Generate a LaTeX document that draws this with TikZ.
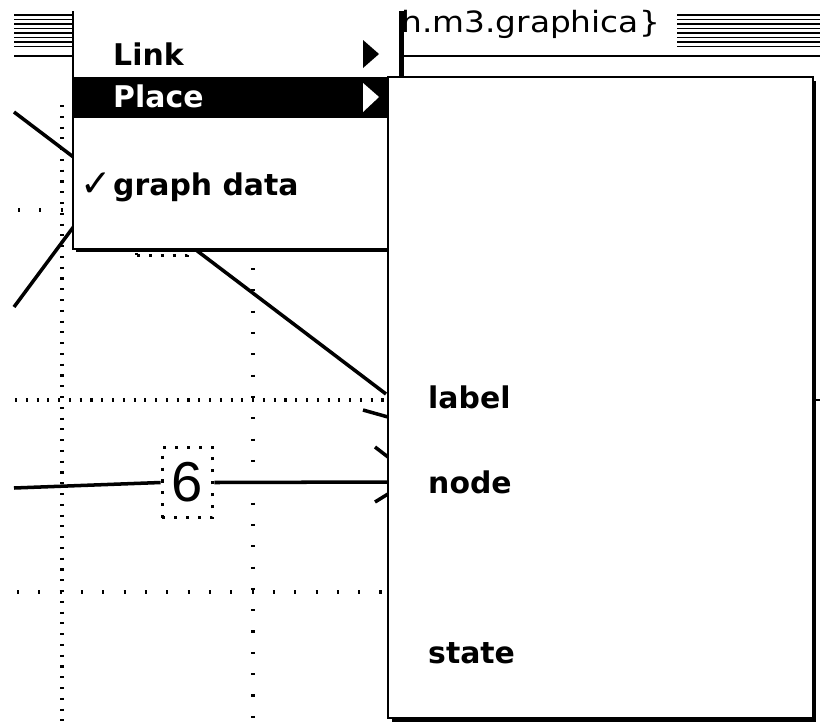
\documentclass[tikz,border=0pt]{standalone}
\usepackage{fontspec}
\newfontfamily\menufont{DejaVu Sans}
\newfontfamily\numfont{Liberation Sans}

\tikzset{
  edge/.style={line width=3pt},
  stripe/.style={line width=1.5pt},
  menuedge/.style={line width=1.5pt},
  gridfine/.style={line width=4pt,dash pattern=on 1.8pt off 7.4pt},
  gridwide/.style={line width=4pt,dash pattern=on 1.8pt off 16.4pt},
  labelbox/.style={draw,fill=white,line width=2.8pt,dash pattern=on 2.6pt off 7.6pt,
    minimum width=43pt,minimum height=60pt,inner sep=0pt,
    font=\numfont\fontsize{48}{50}\selectfont},
  menuitem/.style={anchor=base west,inner sep=0pt,
    font=\menufont\bfseries\fontsize{25.5}{30}\selectfont},
  titletext/.style={anchor=base west,inner sep=0pt,xscale=1.12,
    font=\menufont\fontsize{25}{28}\selectfont}
}

\begin{document}
\begin{tikzpicture}[x=0.03cm,y=-0.03cm]
\useasboundingbox (0,0) rectangle (820,727);

% ---------- grid of the graph window ----------
\draw[gridfine] (62,105) -- (62,727);
\draw[gridwide] (253,268) -- (253,727);
\draw[gridfine] (15,400) -- (386,400);
\draw[gridwide] (17,592) -- (386,592);
\draw[gridwide] (18,210) -- (73,210);

% ---------- edges and edge labels ----------
\coordinate (p1) at (14,112);
\coordinate (q1) at (386,394);
\draw[edge] (p1) -- (q1);
\coordinate (p2) at (14,307);
\coordinate (q2) at (86,210);
\draw[edge] (p2) -- (q2);

\node[labelbox] (hid) at (162,220) {};
\node[labelbox] (six) at (187.5,482.5) {6};
\coordinate (p3) at (14,488);
\coordinate (q3) at (388,482);
\draw[edge] (p3) -- (six.west);
\draw[edge] (six.east) -- (q3);

% arrow heads going under the submenu
\draw[edge] (363,410) -- (388,417);
\draw[edge] (375,447) -- (388,457);
\draw[edge] (375,502) -- (388,494);

% ---------- title bar ----------
\foreach \y in {15,19.5,...,47} {
  \draw[stripe] (14,\y) -- (73,\y);
  \draw[stripe] (677,\y) -- (820,\y);
}
\draw[stripe] (14,56) -- (73,56);
\draw[stripe] (402,56) -- (820,56);
\node[titletext] (title) at (401,32) {h.m3.graphica\}};

% ---------- pull-down menu ----------
\fill (76,11) rectangle (404,252);
\fill[white] (73,0) rectangle (400,249);
\draw[menuedge] (73,11) -- (73,249) -- (400,249) -- (400,11);

\fill (73,77) rectangle (400,118);
\node[menuitem] (link) at (113,65) {Link};
\node[menuitem,text=white] (place) at (113,107) {Place};
\fill (363,40) -- (379,54) -- (363,68) -- cycle;
\fill[white] (363,83) -- (379,97) -- (363,112) -- cycle;
\node[anchor=base west,inner sep=0pt,font=\menufont\fontsize{32}{34}\selectfont]
  (tick) at (80,196) {✓};
\node[menuitem] (graphdata) at (113,195) {graph data};

% ---------- submenu of Place ----------
\fill (392,81) rectangle (816,722);
\filldraw[fill=white,menuedge] (388,77) rectangle (813,718);
\draw[line width=2pt] (816,400) -- (820,400);

\node[menuitem] (label) at (428,408) {label};
\node[menuitem] (node) at (428,493) {node};
\node[menuitem] (state) at (428,663) {state};

\end{tikzpicture}
\end{document}
